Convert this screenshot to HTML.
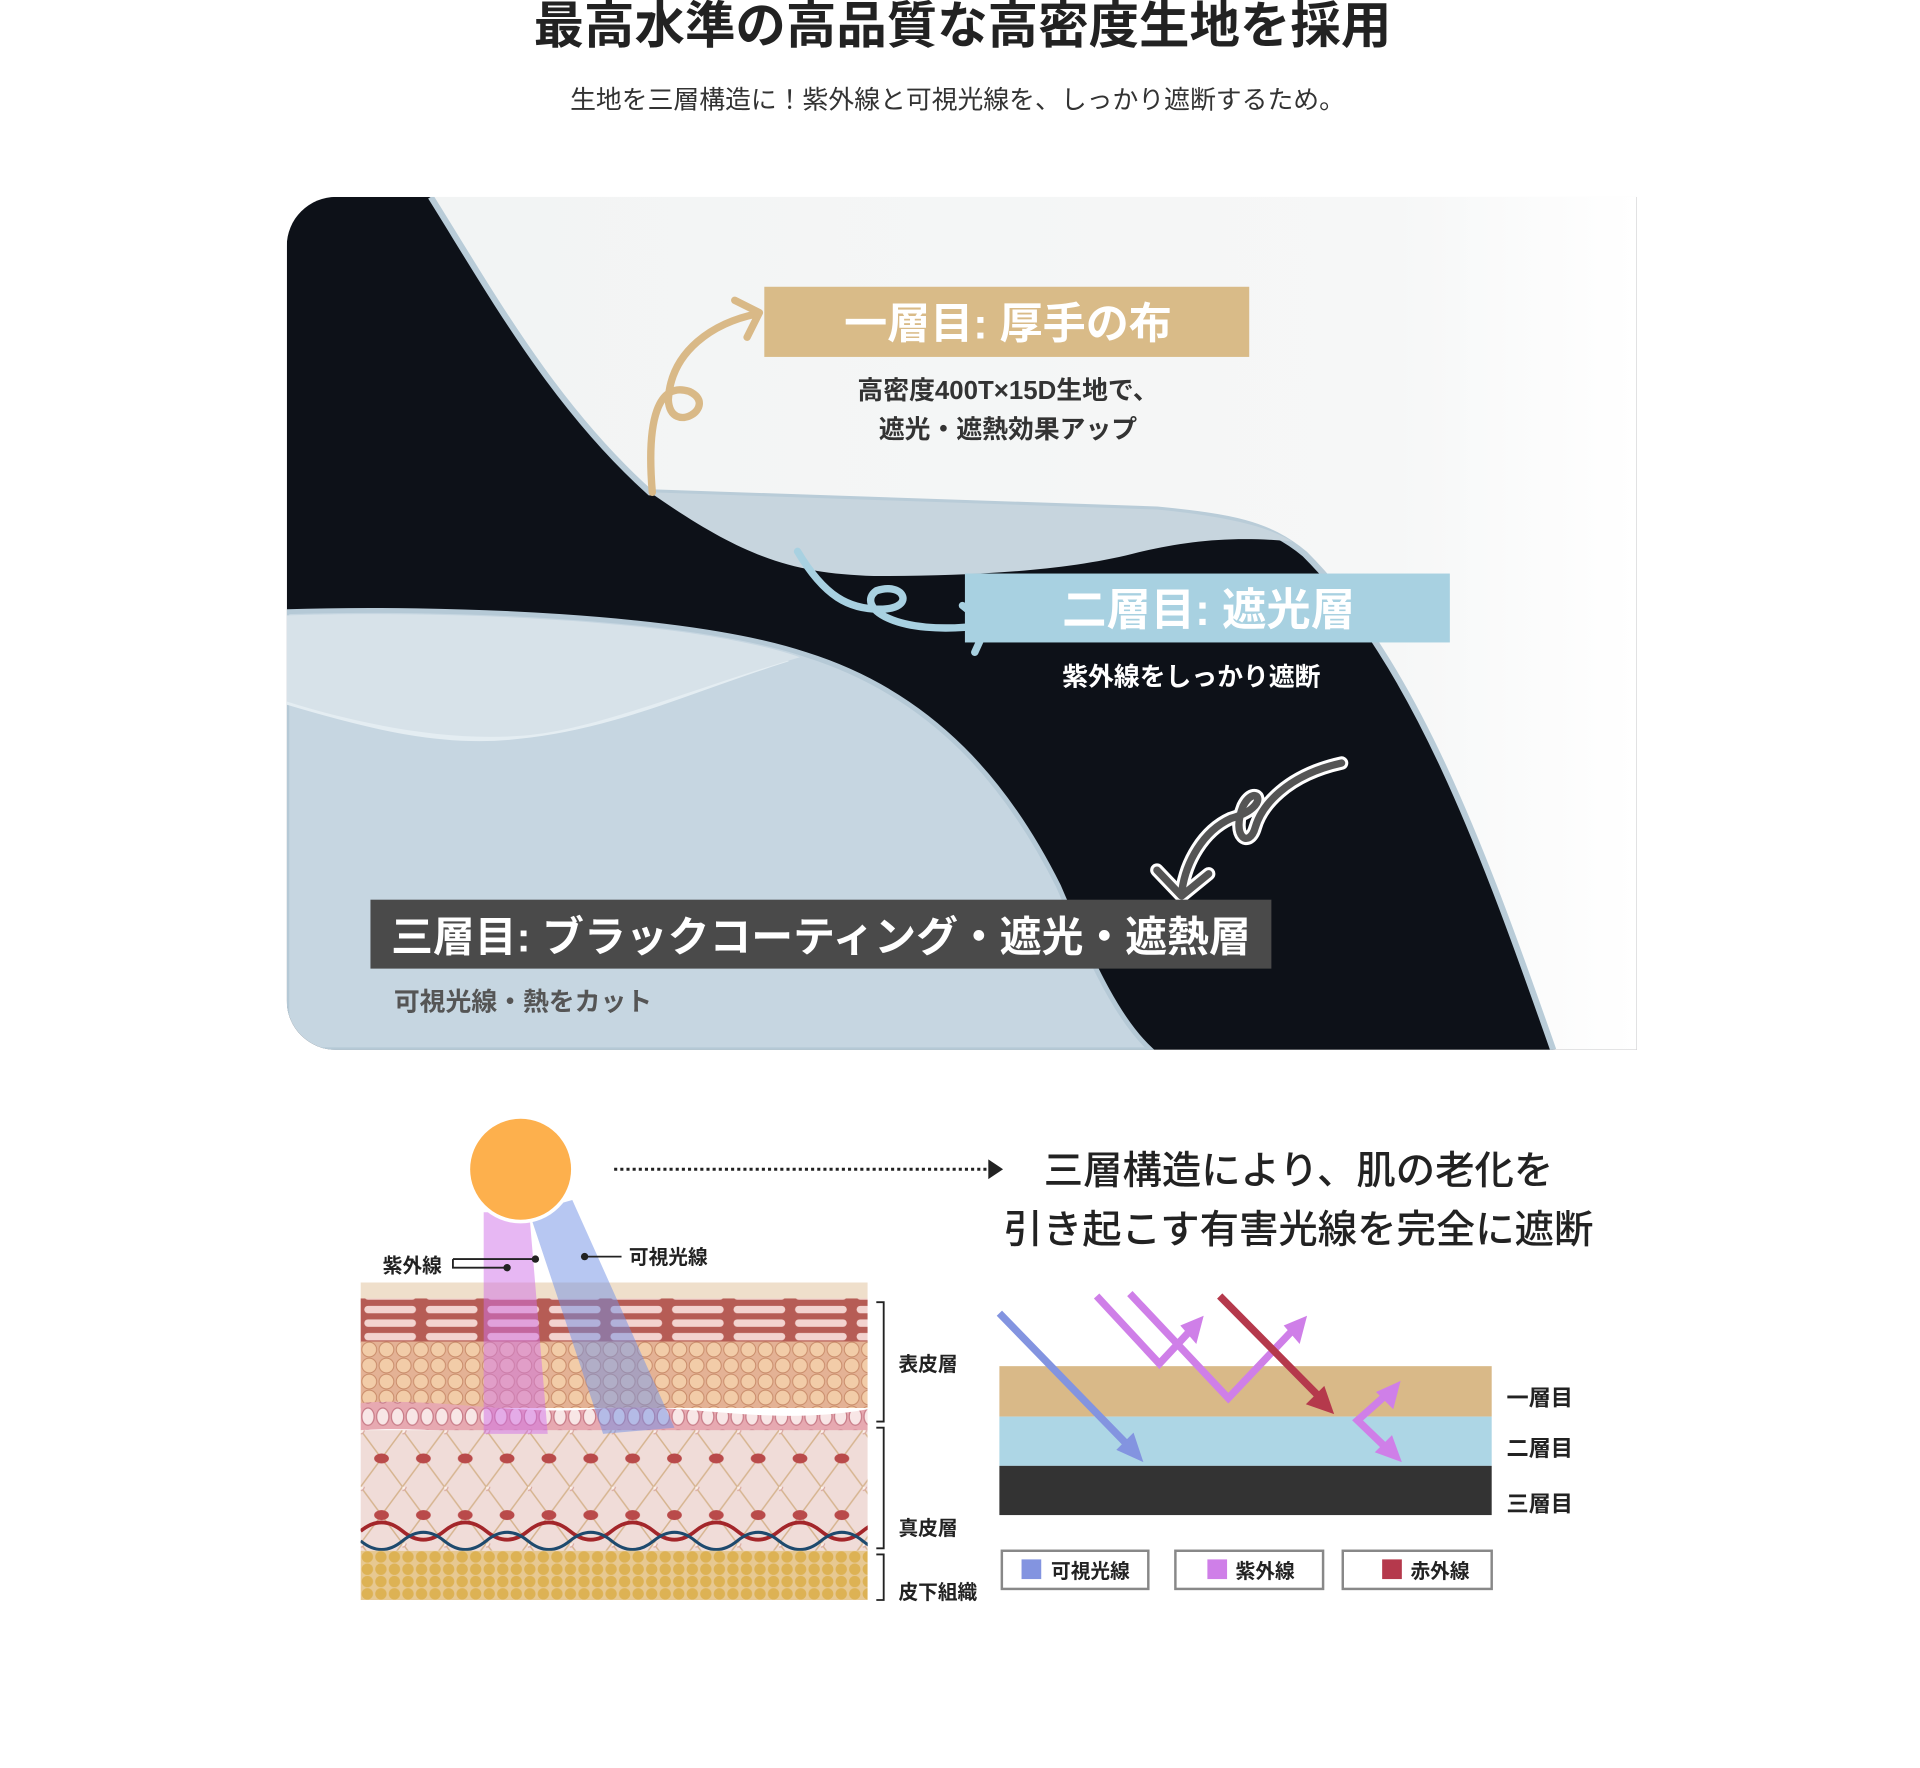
<!DOCTYPE html>
<html><head><meta charset="utf-8"><style>
html,body{margin:0;padding:0;background:#fff;}
svg{display:block;}
text{font-family:"Liberation Sans","Noto Sans CJK JP",sans-serif;}
</style></head><body>
<svg width="1920" height="1768" viewBox="0 0 1560 1436.5" xmlns="http://www.w3.org/2000/svg">
<defs>
<clipPath id="panel"><path d="M273,160 H1330 V853 H273 A40,40 0 0 1 233,813 V200 A40,40 0 0 1 273,160 Z"/></clipPath>
<linearGradient id="wfade" gradientUnits="userSpaceOnUse" x1="350" x2="1330" y1="0" y2="0"><stop offset="0" stop-color="#f2f4f4"/><stop offset="0.8" stop-color="#f6f7f7"/><stop offset="1" stop-color="#fff"/></linearGradient>
<clipPath id="skin"><rect x="293" y="1042" width="412" height="258"/></clipPath>
<pattern id="brick" x="293" y="1058" width="50" height="11" patternUnits="userSpaceOnUse"><rect width="50" height="11" fill="#b65c55"/><rect x="3" y="3" width="42" height="6" rx="3" fill="#f3d3cf"/></pattern>
<pattern id="cells" x="293" y="1090" width="14" height="13" patternUnits="userSpaceOnUse"><rect width="14" height="13" fill="#e4b295"/><circle cx="7" cy="6.5" r="6" fill="#f2cca8" stroke="#c98c6a" stroke-width="0.8"/></pattern>
<pattern id="pinkcell" x="293" y="1142" width="12" height="18" patternUnits="userSpaceOnUse"><rect width="12" height="18" fill="#e7a9b1"/><ellipse cx="6" cy="9" rx="5" ry="7" fill="#f8e6e6" stroke="#c77a86"/></pattern>
<pattern id="lattice" x="293" y="1162" width="34" height="46" patternUnits="userSpaceOnUse"><rect width="34" height="46" fill="#f0dcd8"/><path d="M0,0 L34,46 M34,0 L0,46" stroke="#d6b48f" stroke-width="1.2"/><ellipse cx="17" cy="23" rx="6" ry="4" fill="#b94a4a"/><circle cx="0" cy="0" r="3" fill="#fbefe9" stroke="#d9a9a0"/></pattern>
<pattern id="fat" x="293" y="1260" width="11" height="10" patternUnits="userSpaceOnUse"><rect width="11" height="10" fill="#e7c891"/><circle cx="5.5" cy="5" r="4.6" fill="#ddb254"/></pattern>
</defs>

<!-- Title -->
<text x="782" y="35" text-anchor="middle" font-size="41" font-weight="bold" fill="#222">最高水準の高品質な高密度生地を採用</text>
<text x="778" y="88" text-anchor="middle" font-size="21" fill="#333">生地を三層構造に！紫外線と可視光線を、しっかり遮断するため。</text>

<!-- Photo panel -->
<g clip-path="url(#panel)">
<rect x="233" y="160" width="1097" height="693" fill="#0d1118"/>
<path d="M350,160 L1330,160 L1330,853 L1262,853 C1205,690 1150,540 1060,450 C1030,425 1000,420 940,414 L528,400 C450,330 400,240 350,160 Z" fill="url(#wfade)"/>
<path d="M1262,853 C1205,690 1150,540 1060,450 C1030,425 1000,420 940,414 L528,400 C450,330 400,240 350,160" fill="none" stroke="#b9ccd8" stroke-width="5"/>
<path d="M528,400 L940,414 C1000,420 1030,428 1050,440 C1000,435 960,440 920,450 C860,465 780,468 710,468 C640,466 600,450 528,400 Z" fill="#c7d5de"/>
<path d="M233,497 C360,493 560,500 655,532 C760,565 820,640 860,720 C890,790 910,830 935,853 L233,853 Z" fill="#c6d6e1" stroke="#b5c9d6" stroke-width="4"/>
<path d="M233,570 C300,590 360,605 420,598 C500,590 560,560 640,535" fill="none" stroke="#e4edf2" stroke-width="5"/>
<path d="M233,500 C360,496 560,503 650,534 C560,560 480,595 420,598 C360,602 290,588 233,570 Z" fill="#d7e2e9"/>
</g>

<!-- arrows on panel -->
<g fill="none" stroke-linecap="round" stroke-linejoin="round">
<path d="M530,400 C525,340 535,310 560,318 C585,330 545,355 543,325 C545,285 580,262 615,255" stroke="#d9b987" stroke-width="6"/>
<path d="M597,244 L617,254 L607,274" stroke="#d9b987" stroke-width="6"/>
<path d="M648,448 C670,485 690,495 715,495 C745,495 735,472 712,480 C695,492 725,518 800,508" stroke="#a8d1e1" stroke-width="6"/>
<path d="M782,492 L802,508 L792,530" stroke="#a8d1e1" stroke-width="6"/>
<path d="M1090,620 C1045,630 1025,655 1020,672 C1015,690 1000,680 1010,655 C1020,635 1035,655 1000,665 C978,675 963,700 960,726" stroke="#fff" stroke-width="11"/>
<path d="M940,707 L960,728 L982,710" stroke="#fff" stroke-width="11"/>
<path d="M1090,620 C1045,630 1025,655 1020,672 C1015,690 1000,680 1010,655 C1020,635 1035,655 1000,665 C978,675 963,700 960,726" stroke="#555" stroke-width="6"/>
<path d="M940,707 L960,728 L982,710" stroke="#555" stroke-width="6"/>
</g>

<rect x="621" y="233" width="394" height="57" fill="#d9bb88"/>
<text x="819" y="275" text-anchor="middle" font-size="35" font-weight="bold" fill="#fff">一層目: 厚手の布</text>
<text x="819" y="324" text-anchor="middle" font-size="21" font-weight="bold" fill="#333">高密度400T×15D生地で、</text>
<text x="819" y="356" text-anchor="middle" font-size="21" font-weight="bold" fill="#333">遮光・遮熱効果アップ</text>

<rect x="784" y="466" width="394" height="56" fill="#a8d1e1"/>
<text x="982" y="508" text-anchor="middle" font-size="36" font-weight="bold" fill="#fff">二層目: 遮光層</text>
<text x="968" y="557" text-anchor="middle" font-size="21" font-weight="bold" fill="#fff">紫外線をしっかり遮断</text>

<rect x="301" y="731" width="732" height="56" fill="#4a4a4a"/>
<text x="667" y="773" text-anchor="middle" font-size="34" font-weight="bold" fill="#fff">三層目: ブラックコーティング・遮光・遮熱層</text>
<text x="320" y="821" font-size="21" font-weight="bold" fill="#555">可視光線・熱をカット</text>

<!-- bottom left: skin -->
<g clip-path="url(#skin)">
<rect x="293" y="1042" width="412" height="16" fill="#efdfcb"/>
<rect x="293" y="1055" width="412" height="36" fill="url(#brick)"/>
<rect x="293" y="1090" width="412" height="54" fill="url(#cells)"/>
<path d="M293,1140 C350,1135 420,1150 480,1145 C560,1138 620,1160 705,1145 L705,1165 C620,1170 560,1160 480,1165 C420,1170 350,1158 293,1162 Z" fill="url(#pinkcell)"/>
<rect x="293" y="1162" width="412" height="98" fill="url(#lattice)"/>
<path d="M293,1244 q17,-14 34,0 t34,0 t34,0 t34,0 t34,0 t34,0 t34,0 t34,0 t34,0 t34,0 t34,0 t34,0 t34,0" fill="none" stroke="#a3262a" stroke-width="3"/>
<path d="M293,1252 q17,14 34,0 t34,0 t34,0 t34,0 t34,0 t34,0 t34,0 t34,0 t34,0 t34,0 t34,0 t34,0 t34,0" fill="none" stroke="#1e4a6e" stroke-width="2.5"/>
<rect x="293" y="1260" width="412" height="40" fill="url(#fat)"/>
</g>
<polygon points="393,985 430,985 445,1165 393,1165" fill="#cf6fe8" opacity="0.5"/>
<polygon points="430,985 465,975 548,1160 490,1165" fill="#6f8fe6" opacity="0.5"/>
<circle cx="423" cy="950" r="44" fill="#fff"/>
<circle cx="423" cy="950" r="41" fill="#fdb04d"/>

<g stroke="#222" stroke-width="1.5" fill="none">
<path d="M368,1023 H435 M368,1023 V1030 H412 M475,1021 H505"/>
<path d="M712,1058 H718 V1155 H712 M712,1160 H718 V1258 H712 M712,1263 H718 V1300 H712"/>
</g>
<circle cx="435" cy="1023" r="3" fill="#222"/><circle cx="412" cy="1030" r="3" fill="#222"/><circle cx="475" cy="1021" r="3" fill="#222"/>
<text x="311" y="1034" font-size="16" font-weight="bold" fill="#222">紫外線</text>
<text x="511" y="1027" font-size="16" font-weight="bold" fill="#222">可視光線</text>
<text x="730" y="1114" font-size="16" font-weight="bold" fill="#222">表皮層</text>
<text x="730" y="1247" font-size="16" font-weight="bold" fill="#222">真皮層</text>
<text x="730" y="1299" font-size="16" font-weight="bold" fill="#222">皮下組織</text>

<!-- dotted arrow + headline -->
<line x1="499" y1="950" x2="803" y2="950" stroke="#222" stroke-width="2.5" stroke-dasharray="2.5,2.5"/>
<polygon points="803,942 815,950 803,958" fill="#222"/>
<text x="1055" y="962" text-anchor="middle" font-size="32" fill="#222" font-weight="500">三層構造により、肌の老化を</text>
<text x="1055" y="1010" text-anchor="middle" font-size="32" fill="#222" font-weight="500">引き起こす有害光線を完全に遮断</text>

<!-- layers diagram -->
<rect x="812" y="1110" width="400" height="41" fill="#d9b988"/>
<rect x="812" y="1151" width="400" height="40" fill="#add6e5"/>
<rect x="812" y="1191" width="400" height="40" fill="#333"/>
<g fill="none" stroke-width="6" stroke-linejoin="miter">
<path d="M812,1067 L920,1178" stroke="#8394e0"/>
<path d="M891,1053 L942,1108 L970,1078" stroke="#cf7fe8"/>
<path d="M918,1051 L998,1136 L1052,1079" stroke="#cf7fe8"/>
<path d="M991,1053 L1073,1136" stroke="#b5394c"/>
<path d="M1130,1130 L1103,1154 L1130,1180" stroke="#cf7fe8"/>
</g>
<polygon points="929,1188 907,1178 921,1164" fill="#8394e0"/>
<polygon points="978,1069 972,1092 959,1077" fill="#cf7fe8"/>
<polygon points="1062,1069 1056,1092 1043,1077" fill="#cf7fe8"/>
<polygon points="1084,1149 1061,1141 1076,1126" fill="#b5394c"/>
<polygon points="1138,1122 1132,1145 1118,1131" fill="#cf7fe8"/>
<polygon points="1139,1188 1117,1180 1131,1166" fill="#cf7fe8"/>
<text x="1224" y="1142" font-size="18" font-weight="bold" fill="#222">一層目</text>
<text x="1224" y="1183" font-size="18" font-weight="bold" fill="#222">二層目</text>
<text x="1224" y="1228" font-size="18" font-weight="bold" fill="#222">三層目</text>

<!-- legend -->
<g fill="#fff" stroke="#888" stroke-width="2">
<rect x="814" y="1260" width="119" height="31"/><rect x="955" y="1260" width="120" height="31"/><rect x="1091" y="1260" width="121" height="31"/>
</g>
<rect x="830" y="1267" width="16" height="16" fill="#8394e0"/>
<rect x="981" y="1267" width="16" height="16" fill="#cf7fe8"/>
<rect x="1123" y="1267" width="16" height="16" fill="#b5394c"/>
<text x="854" y="1282" font-size="16" font-weight="bold" fill="#222">可視光線</text>
<text x="1004" y="1282" font-size="16" font-weight="bold" fill="#222">紫外線</text>
<text x="1146" y="1282" font-size="16" font-weight="bold" fill="#222">赤外線</text>
</svg>
</body></html>
